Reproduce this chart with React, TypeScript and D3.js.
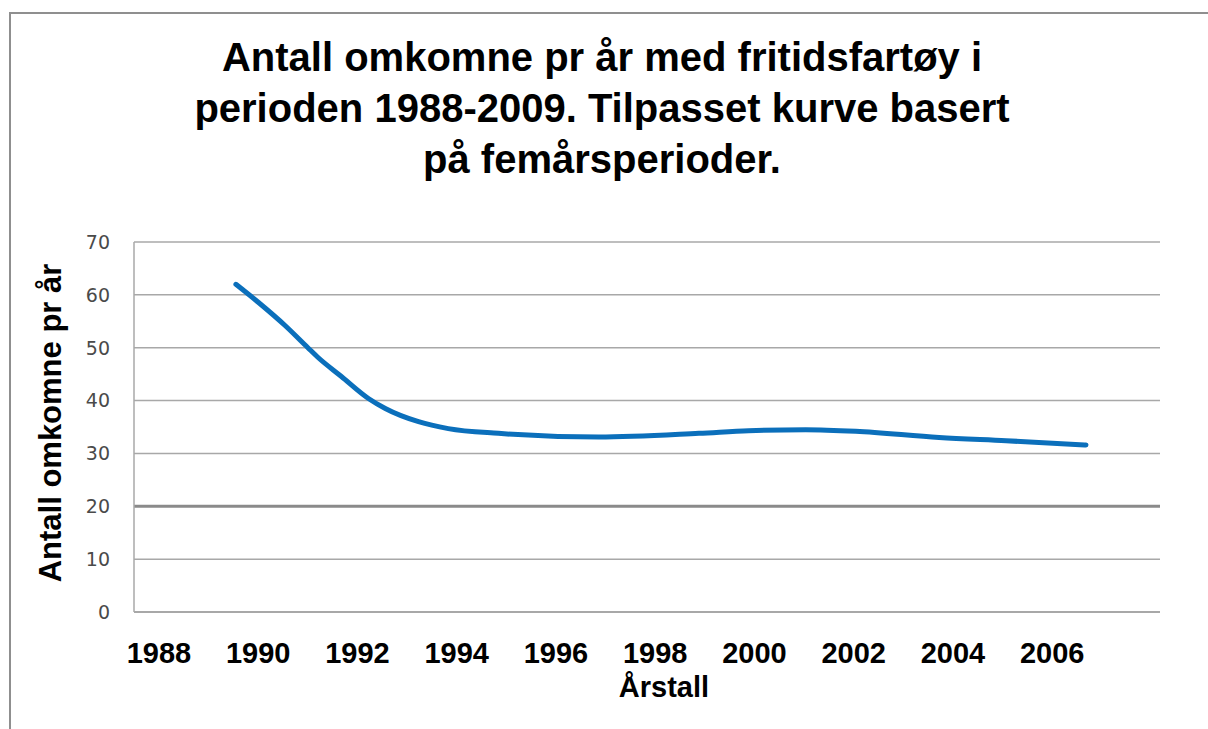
import React from "react";
import * as d3 from "d3";

const titleLines = [
  "Antall omkomne pr år med fritidsfartøy i",
  "perioden 1988-2009. Tilpasset kurve basert",
  "på femårsperioder.",
];
const yTitle = "Antall omkomne pr år";
const xTitle = "Årstall";
const yTicks = [0, 10, 20, 30, 40, 50, 60, 70];
const xTickYears = [1988, 1990, 1992, 1994, 1996, 1998, 2000, 2002, 2004, 2006];
// fitted curve
const curveYears = [
  1989.55, 1990.0, 1990.54, 1991.0, 1991.2, 1991.67, 1992.22, 1992.56, 1993.23,
  1993.83, 1994.84, 1996.86, 1998.88, 1999.88, 2001.03, 2002.04, 2003.72,
  2005.07, 2006.68,
];
const curveValues = [
  62.0, 58.6, 54.2, 50.0, 48.2, 44.6, 40.4, 38.5, 36.0, 34.7, 33.8, 33.1, 33.8,
  34.3, 34.5, 34.2, 33.0, 32.4, 31.6,
];

const W = 1208;
const H = 729;
const plot = { left: 134, right: 1160, top: 242, bottom: 612 };

export default function App() {
  const y = d3.scaleLinear().domain([0, 70]).range([plot.bottom, plot.top]);
  const x = d3.scaleLinear().domain([1988, 2004]).range([159, 953]);
  const pts = curveYears.map((yr, i) => [yr, curveValues[i]] as [number, number]);
  const line = d3
    .line<[number, number]>()
    .x((d) => x(d[0]))
    .y((d) => y(d[1]))
    .curve(d3.curveMonotoneX);
  const bold = "'Liberation Sans', Arial, Helvetica, sans-serif";
  return (
    <svg
      width={W}
      height={H}
      style={{ position: "absolute", left: 0, top: 0, background: "#fff" }}
    >
      <rect x={0} y={0} width={W} height={H} fill="#fff" />
      {/* outer frame */}
      <path d={`M10,${H} L10,13 L${W},13`} fill="none" stroke="#8f8f8f" strokeWidth={2} />
      {/* title */}
      {titleLines.map((t, i) => (
        <text
          key={i}
          x={602}
          y={71 + i * 51}
          textAnchor="middle"
          fontFamily={bold}
          fontWeight="bold"
          fontSize={40}
          fill="#000"
        >
          {t}
        </text>
      ))}
      {/* gridlines */}
      {yTicks.map((v) => (
        <line
          key={v}
          x1={plot.left}
          x2={plot.right}
          y1={y(v)}
          y2={y(v)}
          stroke={v === 20 ? "#8a8a8a" : "#a8a8a8"}
          strokeWidth={v === 20 ? 3 : v === 0 ? 2 : 1.5}
        />
      ))}
      <line x1={plot.left} x2={plot.left} y1={plot.top} y2={plot.bottom} stroke="#a8a8a8" strokeWidth={1.5} />
      {/* y tick labels */}
      {yTicks.map((v) => (
        <text
          key={v}
          x={110}
          y={y(v)}
          dy="0.36em"
          textAnchor="end"
          fontFamily="'DejaVu Sans', Verdana, sans-serif"
          fontSize={19}
          fill="#4a4a4a"
        >
          {v}
        </text>
      ))}
      {/* y title */}
      <text
        transform={`translate(61,423) rotate(-90)`}
        textAnchor="middle"
        fontFamily={bold}
        fontWeight="bold"
        fontSize={31}
        fill="#000"
      >
        {yTitle}
      </text>
      {/* x tick labels */}
      {xTickYears.map((yr) => (
        <text
          key={yr}
          x={x(yr)}
          y={663}
          textAnchor="middle"
          fontFamily={bold}
          fontWeight="bold"
          fontSize={29}
          fill="#000"
        >
          {yr}
        </text>
      ))}
      <text x={664} y={697} textAnchor="middle" fontFamily={bold} fontWeight="bold" fontSize={29} fill="#000">
        {xTitle}
      </text>
      {/* curve */}
      <path
        d={line(pts) || ""}
        fill="none"
        stroke="#0b6fbb"
        strokeWidth={5}
        strokeLinecap="round"
        strokeLinejoin="round"
      />
    </svg>
  );
}
